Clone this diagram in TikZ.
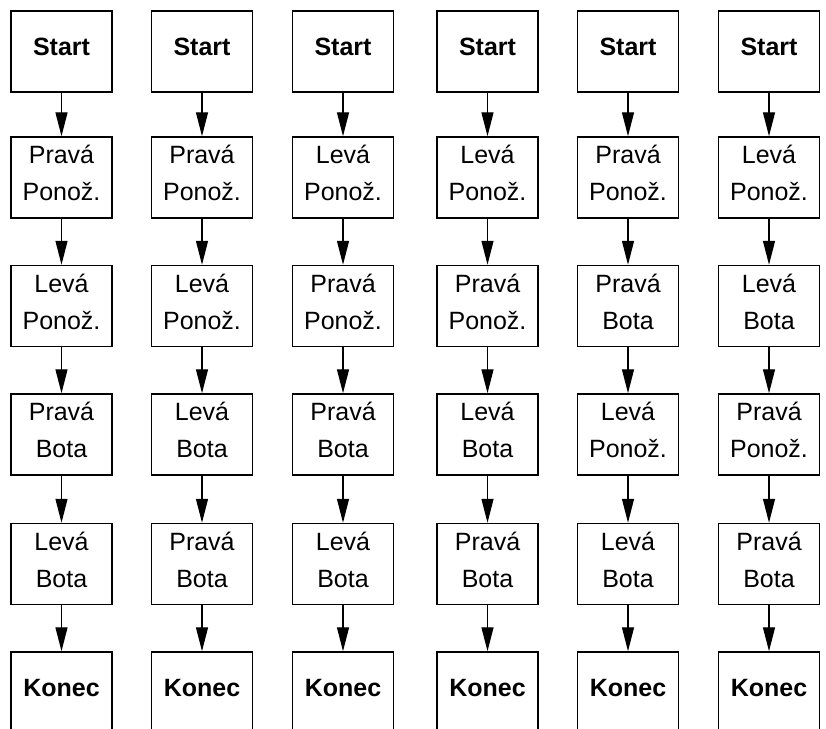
\documentclass[tikz,border=0pt]{standalone}
\usepackage{fontspec}
\setmainfont{Liberation Sans}
\usetikzlibrary{arrows.meta}

\begin{document}
\begin{tikzpicture}[x=1pt, y=-1pt, every node/.style={font=\fontsize{25}{37}\selectfont},
	box/.style={draw, line width=1.5pt, minimum width=101pt, minimum height=81pt, inner sep=0pt, text depth=9pt, align=center},
	term/.style={box, font=\fontsize{25}{37}\selectfont\bfseries},
	link/.style={line width=1.3pt, -{Triangle[length=24pt, width=12pt]}}]
	\useasboundingbox (0,0) rectangle (826,728);
	\foreach \c/\x/\one/\two/\three/\four in {1/61.5/{Pravá\\Ponož.}/{Levá\\Ponož.}/{Pravá\\Bota}/{Levá\\Bota}, 2/202/{Pravá\\Ponož.}/{Levá\\Ponož.}/{Levá\\Bota}/{Pravá\\Bota}, 3/343/{Levá\\Ponož.}/{Pravá\\Ponož.}/{Pravá\\Bota}/{Levá\\Bota}, 4/487.5/{Levá\\Ponož.}/{Pravá\\Ponož.}/{Levá\\Bota}/{Pravá\\Bota}, 5/628/{Pravá\\Ponož.}/{Pravá\\Bota}/{Levá\\Ponož.}/{Levá\\Bota}, 6/769/{Levá\\Ponož.}/{Levá\\Bota}/{Pravá\\Ponož.}/{Pravá\\Bota}} {
		\node[term] (s\c) at (\x,51.5) {Start};
		\node[box] (a\c) at (\x,177.5) {\one};
		\node[box] (b\c) at (\x,306) {\two};
		\node[box] (d\c) at (\x,434.5) {\three};
		\node[box] (e\c) at (\x,564) {\four};
		\node[term] (k\c) at (\x,692.5) {Konec};
		\draw[link] (s\c) -- (a\c);
		\draw[link] (a\c) -- (b\c);
		\draw[link] (b\c) -- (d\c);
		\draw[link] (d\c) -- (e\c);
		\draw[link] (e\c) -- (k\c);
	}
\end{tikzpicture}
\end{document}
